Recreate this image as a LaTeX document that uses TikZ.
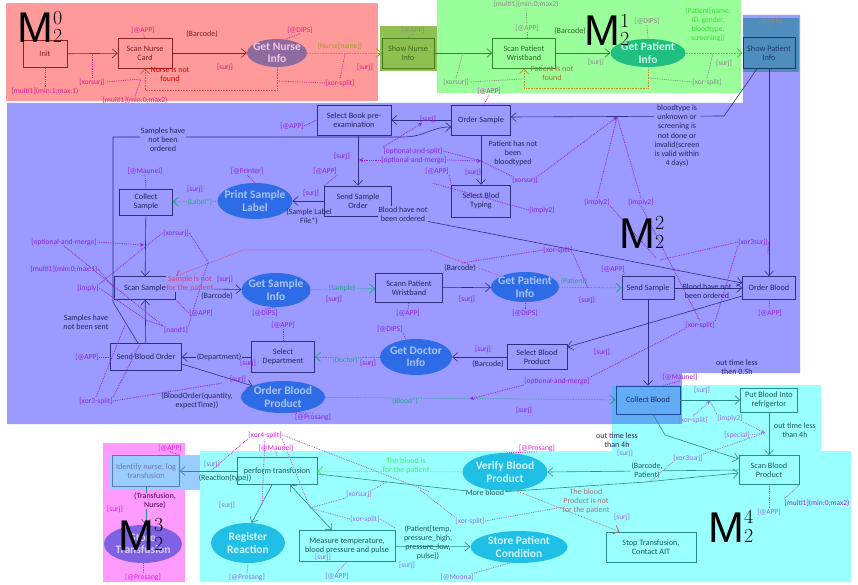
\documentclass[tikz,border=0pt]{standalone}
\usepackage{fontspec}
\usetikzlibrary{arrows.meta,shapes.geometric,calc}
\newfontfamily\labfont{Carlito}
\newfontfamily\mfnt{Liberation Sans}
\newcommand\bxfnt{\labfont\fontsize{8.2}{9.2}\selectfont}
\newcommand\elfnt{\labfont\bfseries\fontsize{11.5}{12.2}\selectfont}
\newcommand\lbfnt{\labfont\fontsize{7.5}{8.8}\selectfont}
\newcommand\txfnt{\labfont\fontsize{8}{9}\selectfont}
\newcommand\Mlab[1]{{\mfnt\fontsize{43}{43}\selectfont M}{\rmfamily\fontsize{20}{16.5}\selectfont\begin{tabular}[b]{@{}l@{}}#1\\2\end{tabular}}}

\definecolor{redbg}{HTML}{FF9A9A}
\definecolor{olivebg}{HTML}{8FBF4F}
\definecolor{greenbg}{HTML}{9AFF9A}
\definecolor{purplebg}{HTML}{9A9AFF}
\definecolor{cyanbg}{HTML}{9AFFFF}
\definecolor{pinkbg}{HTML}{FF9AFF}
\definecolor{showpatbg}{HTML}{4F8DBE}
\definecolor{collectbg}{HTML}{62ACF6}
\definecolor{identbg}{HTML}{99CCFF}
\definecolor{rline}{HTML}{8A2222}
\definecolor{rtext}{HTML}{7A2020}
\definecolor{oline}{HTML}{4A7A20}
\definecolor{otext}{HTML}{3F661A}
\definecolor{gline}{HTML}{2A8A2A}
\definecolor{gtext}{HTML}{2A6A2A}
\definecolor{pline}{HTML}{2E2E7E}
\definecolor{ptext}{HTML}{23235E}
\definecolor{cline}{HTML}{2A8A8A}
\definecolor{ctext}{HTML}{1A5A5A}
\definecolor{spline}{HTML}{1A3A6A}
\definecolor{cbline}{HTML}{1A4A9A}
\definecolor{idline}{HTML}{5A7AB0}
\definecolor{idtext}{HTML}{6A7AAA}
\definecolor{nurseell}{HTML}{8E6B9E}
\definecolor{nursetxt}{HTML}{F2C8E2}
\definecolor{greenell}{HTML}{1FBF7F}
\definecolor{greentxt}{HTML}{CCFFE6}
\definecolor{blueell}{HTML}{2E6BE6}
\definecolor{bluetxt}{HTML}{A8C4FF}
\definecolor{cyanell}{HTML}{1FBFE6}
\definecolor{cyantxt}{HTML}{D4F6FF}
\definecolor{violetell}{HTML}{7F62E3}
\definecolor{violettxt}{HTML}{D8CCFF}
\definecolor{lblred}{HTML}{E01C8C}
\definecolor{lblgrey}{HTML}{8A8A8A}
\definecolor{lblvio}{HTML}{9020E0}
\definecolor{lblmag}{HTML}{E020E0}
\definecolor{lblcy}{HTML}{9A6AE6}
\definecolor{datagreen}{HTML}{1FA87A}
\definecolor{olivetxt}{HTML}{A0A028}
\definecolor{redflow}{HTML}{E04848}
\definecolor{orangeflow}{HTML}{C89030}
\definecolor{brightgreen}{HTML}{33DD33}
\definecolor{pinkflow}{HTML}{D04080}
\definecolor{limeflow}{HTML}{40F060}
\definecolor{brownflow}{HTML}{B07070}

\begin{document}
\begin{tikzpicture}[x=1pt,y=-1pt,
  bx/.style={draw,rectangle,align=center,inner sep=1pt,line width=0.7pt,font=\bxfnt},
  sz/.style 2 args={minimum width=#1pt,minimum height=#2pt},
  ell/.style={ellipse,align=center,inner xsep=-4pt,inner ysep=-2pt,font=\elfnt},
  rbox/.style={bx,draw=rline,text=rtext},
  obox/.style={bx,draw=oline,text=otext},
  gbox/.style={bx,draw=gline,text=gtext},
  spbox/.style={bx,draw=spline,text=spline},
  pbox/.style={bx,draw=pline,text=ptext},
  cbbox/.style={bx,draw=cbline,text=ptext},
  cbox/.style={bx,draw=cline,text=ctext},
  ibox/.style={bx,draw=idline,text=idtext},
  lb/.style={font=\lbfnt,inner sep=0.4pt,align=center},
  tx/.style={lb,font=\txfnt},
  ar/.style={line width=0.6pt,-{Straight Barb[length=5pt,width=9pt]}},
  dar/.style={ar,densely dotted,line width=0.8pt},
  an/.style={line width=0.8pt,densely dotted},
  ant/.style={an,-{Stealth[length=4pt,width=4pt]}},
]
\useasboundingbox (0,0) rectangle (858,585);

% ---------- swim areas ----------
\fill[redbg] (6,3) rectangle (378,101);
\fill[olivebg] (380,26) rectangle (437,71);
\fill[greenbg] (437,0) rectangle (741,93);
\fill[purplebg] (7,103) -- (743,103) -- (743,15) -- (800,15) -- (800,373)
  -- (682,373) -- (682,424) -- (7,424) -- cycle;
\fill[showpatbg] (743,18) rectangle (799,72);
\fill[cyanbg] (612,385) -- (821,385) -- (821,451) -- (851,451) -- (851,582)
  -- (200,582) -- (200,451) -- (612,451) -- cycle;
\fill[collectbg] (612,385) rectangle (682,424);
\fill[pinkbg] (103,443) rectangle (185,582);
\fill[identbg] (110,455) rectangle (200,490);

% ---------- nurse identification ----------
\node[rbox,sz={44}{27}] (init) at (45,54) {Init};
\node[rbox,sz={54}{30}] (scannurse) at (145,53) {Scan Nurse\\Card};
\node[ell,fill=nurseell,text=nursetxt,minimum width=60pt,minimum height=28pt] (getnurse) at (277,53) {Get Nurse\\Info};
\node[obox,sz={52}{30}] (shownurse) at (408,53) {Show Nurse\\Info};

% ---------- patient identification ----------
\node[gbox,sz={63}{30}] (scanpat) at (524,53) {Scan Patient\\Wristband};
\node[ell,fill=greenell,text=greentxt,minimum width=75pt,minimum height=28pt] (getpat1) at (648,53) {Get Patient\\Info};
\node[spbox,sz={52}{31}] (showpat) at (769,53) {Show Patient\\Info};

% ---------- sampling and ordering ----------
\node[pbox,sz={74}{30}] (selbook) at (354,120) {Select Book pre-\\examination};
\node[pbox,sz={59}{30}] (ordsample) at (481,120) {Order Sample};
\node[pbox,sz={53}{26}] (collectsample) at (146,202) {Collect\\Sample};
\node[ell,fill=blueell,text=bluetxt,minimum width=68pt,minimum height=36pt] (printlabel) at (255,201) {Print Sample\\Label};
\node[pbox,sz={67}{30}] (sendsample) at (358,201) {Send Sample\\Order};
\node[pbox,sz={59}{32}] (selblod) at (481,201) {Select Blod\\Typing};
\node[pbox,sz={61}{23}] (scansample) at (145,288) {Scan Sample};
\node[ell,fill=blueell,text=bluetxt,minimum width=69pt,minimum height=34pt] (getsample) at (276,290) {Get Sample\\Info};
\node[pbox,sz={67}{29}] (scannpat) at (409,288) {Scann Patient\\Wristband};
\node[ell,fill=blueell,text=bluetxt,minimum width=68pt,minimum height=30pt] (getpat2) at (525,287) {Get Patient\\Info};
\node[pbox,sz={52}{23}] (sendsmp) at (648,288) {Send Sample};
\node[pbox,sz={53}{23}] (ordblood) at (769,288) {Order Blood};
\node[pbox,sz={71}{27}] (sendblood) at (146,357) {Send Blood Order};
\node[pbox,sz={63}{31}] (seldept) at (283,357) {Select\\Department};
\node[ell,fill=blueell,text=bluetxt,minimum width=72pt,minimum height=36pt] (getdoc) at (416,357) {Get Doctor\\Info};
\node[pbox,sz={60}{25}] (selbloodprod) at (537,357) {Select Blood\\Product};
\node[ell,fill=blueell,text=bluetxt,minimum width=84pt,minimum height=32pt] (ordbloodprod) at (283,397) {Order Blood\\Product};
\node[cbbox,sz={64}{28}] (collectblood) at (648,400) {Collect Blood};

% ---------- transfusion ----------
\node[cbox,sz={57}{24}] (putblood) at (769,400) {Put Blood Into\\refrigertor};
\node[cbox,sz={60}{29}] (scanbp) at (769,470) {Scan Blood\\Product};
\node[ell,fill=cyanell,text=cyantxt,minimum width=85pt,minimum height=38pt] (verify) at (505,472) {Verify Blood\\Product};
\node[cbox,sz={80}{27}] (perform) at (277,471) {perform transfusion};
\node[ibox,sz={67}{31}] (identify) at (146,471) {Identify nurse, log\\transfusion};
\node[ell,fill=cyanell,text=cyantxt,minimum width=74pt,minimum height=40pt] (register) at (248,543) {Register\\Reaction};
\node[cbox,sz={96}{31}] (measure) at (347,546) {Measure temperature,\\blood pressure and pulse};
\node[ell,fill=cyanell,text=cyantxt,minimum width=97pt,minimum height=32pt] (storepat) at (519,547) {Store Patient\\Condition};
\node[cbox,sz={90}{30}] (stop) at (651,547) {Stop Transfusion,\\Contact AIT};
\node[ell,fill=violetell,text=violettxt,minimum width=78pt,minimum height=38pt] (storetrans) at (143,544) {Store\\Transfusion};

% ---------- control flow ----------
\draw[ar,rline] (init) -- (scannurse);
\draw[ar,rline] (scannurse) -- (getnurse);
\draw[dar,redflow] (getnurse.south) -- ++(0,23) -| (scannurse.south);
\draw[dar,olivetxt] (getnurse) -- (shownurse);
\draw[ar,gline] (shownurse) -- (scanpat);
\draw[ar,gline] (scanpat) -- (getpat1);
\draw[dar,orangeflow] (getpat1.south) -- ++(0,21) -| (scanpat.south);
\draw[dar,brightgreen] (getpat1) -- (showpat);

\draw[ar,pline] (showpat.south) -- (ordblood.north);
\draw[ar,pline] ($(showpat.south)+(-12,0)$) -- (724,116) -- ($(ordsample.east)+(0,-3)$);
\draw[ar,pline] (ordsample.west) -- (selbook.east);
\draw[ar,pline] (ordsample) -- (selblod);
\draw[ar,pline] (selbook.south -| sendsample.north) -- (sendsample.north);
\draw[ar,pline] (sendsample) -- (printlabel);
\draw[dar,datagreen] (printlabel) -- (collectsample);
\draw[ar,pline] (collectsample) -- (scansample);
\draw[ar,pline] (sendblood) -- (scansample);
\draw[ar,pline] (scansample) -- (getsample);
\draw[dar,datagreen] (getsample) -- (scannpat);
\draw[ar,pline] (scannpat) -- (getpat2);
\draw[dar,datagreen] (getpat2) -- (sendsmp);
\draw[ar,pline] (sendsmp) -- (ordblood);
\draw[ar,pline] (sendsmp) -- (collectblood);
\draw[ar,pline] ($(sendsample.south east)+(0,-2)$) -- ($(ordblood.west)+(0,-5)$);
\draw[ar,pline] ($(ordblood.west)+(0,8)$) -- ($(selbloodprod.east)+(0,-10)$);
\draw[ar,pline] (selbloodprod) -- (getdoc);
\draw[dar,datagreen] (getdoc) -- (seldept);
\draw[ar,pline] (seldept) -- (sendblood);
\draw[ar,pline] ($(sendblood.east)+(0,7)$) -- (ordbloodprod.160);
\draw[dar,datagreen] (ordbloodprod) -- (collectblood);
\draw[ar,pline] ($(sendblood.north)+(-8,0)$) -- (113,302) -- (113,137) -- (402,137)
  .. controls (426,137) and (430,127) .. ($(ordsample.west)+(0,7)$);
\draw[dar,pinkflow] (getpat2.north west) -- (430,250) -- (243,250) -- (scansample.north east);

\draw[ar,cline] (collectblood) -- (putblood);
\draw[ar,cline] (putblood) -- (scanbp);
\draw[ar,cline] ($(collectblood.south)+(5,0)$) -- (665,435) -- ($(scanbp.west)+(0,-11)$);
\draw[ar,cline] (scanbp.west) -- (verify.east);
\draw[ar,cline] ($(perform.east)+(0,3)$) -- (485,493) -- (645,482) -- ($(scanbp.west)+(0,3)$);
\draw[dar,limeflow] (verify) -- (perform);
\draw[dar,brownflow] (verify.-60) -- ($(stop.north west)+(14,0)$);
\draw[ar,cline] (perform) -- (identify);
\draw[ar,cline] (identify.south) -- (identify.south |- storetrans.north);
\draw[ar,cline] ($(perform.south)+(-5,0)$) -- (register.80);
\draw[line width=0.6pt,cline,{Straight Barb[length=5pt,width=9pt]}-{Straight Barb[length=5pt,width=9pt]}] ($(perform.south)+(13,0)$) -- ($(measure.north)+(-15,0)$);
\draw[ar,cline] (measure) -- (storepat);

% ---------- labels: nurse area ----------
\node[lb,text=lblred] (lapp1) at (143,30) {[@APP]};
\node[tx,text=rtext] (lbar1) at (202,34) {(Barcode)};
\node[lb,text=lblred] (ldips1) at (300,30) {[@DIPS]};
\node[lb,text=lblred] (lsurj1) at (225,67) {[surj]};
\node[tx,text=red!90!black] (lnotfound) at (170,74) {Nurse is not\\found};
\node[lb,text=lblred] (lxs1) at (92,82) {[xorsurj]};
\node[lb,text=lblred] (lmulti1) at (45,91) {[multi1](min:1;max:1)};
\node[lb,text=lblred] (lmulti2) at (135,100) {[multi1](min:0;max2)};
\node[lb,text=lblred] (lxsplit1) at (340,83) {[xor-split]};
\node[lb,text=olivetxt] (lnname) at (340,46) {(Nurse[name])};
\node[lb,text=lblred] (lsurj2) at (365,67) {[surj]};
\draw[an,lblred] (lmulti1.north) -- (init.south);
\draw[an,lblred] (92,55) -- (lxs1.north);
\draw[an,lblred] (lxs1.east) -- (141,79);
\draw[an,lblred] (lmulti2.north) -- (141,79);
\draw[an,lblred] (lapp1.south) -- (scannurse.north);
\draw[an,lblred] (ldips1.south) -- (getnurse.60);
\draw[an,lblred] (lxsplit1.west) -- (277,81);
\draw[an,lblred] (345,54) -- (lxsplit1.north);

% ---------- labels: patient area ----------
\node[lb,text=lblgrey] (lapp2) at (413,30) {[@APP]};
\node[lb,text=lblgrey] (lmulti3) at (526,4) {[multi1](min:0;max2)};
\node[lb,text=lblgrey] (lapp3) at (527,28) {[@APP]};
\node[tx,text=gtext] (lbar2) at (570,31) {(Barcode)};
\node[lb,text=lblgrey] (lsurj3) at (596,62) {[surj]};
\node[tx,text=orangeflow!80!black] (lpatnf) at (552,73) {Patient is not\\found};
\node[lb,text=lblgrey] (lxs2) at (456,82) {[xorsurj]};
\node[lb,text=lblgrey] (ldips2) at (647,21) {[@DIPS]};
\node[lb,text=brightgreen] (lpdata) at (708,25) {(Patient[name,\\ID, gender,\\bloodtype,\\screening])};
\node[lb,text=lblgrey] (lsurj4) at (724,63) {[surj]};
\node[lb,text=lblgrey] (lxsplit2) at (707,82) {[xor-split]};
\node[lb,text=lblgrey] (lapp4) at (770,21) {[@APP]};
\node[lb,text=lblmag] (lapp5) at (489,91) {[@APP]};
\draw[an,lblgrey] (lapp2.south) -- (shownurse.north);
\draw[an,lblgrey] (lmulti3.south) -- (lapp3.north);
\draw[an,lblgrey] (lapp3.south) -- (lapp3.south |- scanpat.north);
\draw[an,lblgrey] (lxs2.north) -- (463,53);
\draw[an,lblgrey] (lxs2.east) -- (522,79);
\draw[an,lblgrey] (ldips2.south) -- (getpat1.north);
\draw[an,lblgrey] (lxsplit2.west) -- (648,78);
\draw[an,lblgrey] (lxsplit2.north) -- (713,53);
\draw[an,lblgrey] (lapp4.south) -- (showpat.north);
\draw[an,lblmag] (lapp5.south) -- ($(ordsample.north)+(3,0)$);

% ---------- labels: sampling and ordering ----------
\node[tx,text=ptext,fill=purplebg,font=\labfont\fontsize{8}{9.2}\selectfont] (lbtype) at (677,136) {bloodtype is\\unknown or\\screening is\\not done or\\invalid(screen\\is valid within\\4 days)};
\node[lb,text=lblvio] (lapp6) at (292,126) {[@APP]};
\node[lb,text=lblvio] (lsurj5) at (428,119) {[surj]};
\node[lb,text=lblvio] (loas) at (413,151) {[optional-and-split]};
\node[lb,text=lblvio] (loam) at (414,160) {[optional-and-merge]};
\node[lb,text=lblvio] (lsurj6) at (342,156) {[surj]};
\node[lb,text=lblvio] (lapp7) at (325,171) {[@APP]};
\node[lb,text=lblvio] (lprinter) at (247,171) {[@Printer]};
\node[lb,text=lblvio] (lmaunel1) at (145,171) {[@Maunel]};
\node[lb,text=lblvio] (lsurj7) at (195,189) {[surj]};
\node[lb,text=datagreen,fill=purplebg] (llabel) at (200,202) {(Label*)};
\node[lb,text=lblvio] (lsurj8) at (311,193) {[surj]};
\node[tx,text=ptext] (lslf) at (309,217) {(Sample Label\\File*)};
\node[tx,text=ptext,fill=purplebg] (lbhno1) at (403,214) {Blood have not\\been ordered};
\node[tx,text=ptext] (lphnb) at (513,153) {Patient has not\\been\\bloodtyped};
\node[lb,text=lblvio] (lsurj9) at (473,172) {[surj]};
\node[lb,text=lblvio] (lapp8) at (437,171) {[@APP]};
\node[lb,text=lblvio] (lxs3) at (525,180) {[xorsurj]};
\node[lb,text=lblvio] (limp1) at (542,210) {[imply2]};
\node[lb,text=lblvio] (limp2) at (597,202) {[imply2]};
\node[lb,text=lblvio] (limp3) at (641,202) {[imply2]};
\node[tx,text=ptext,fill=purplebg] (lsnbo) at (163,140) {Samples have\\not been\\ordered};
\node[lb,text=lblvio] (loam2) at (64,242) {[optional-and-merge]};
\node[lb,text=lblvio] (lxs4) at (176,233) {[xorsurj]};
\node[lb,text=lblvio] (lmulti4) at (64,269) {[multi1](min:0;max:1)};
\node[lb,text=lblvio] (limply) at (88,288) {[imply]};
\node[tx,text=pinkflow,fill=purplebg] (lsinfp) at (190,284) {Sample is not\\for the patient};
\node[lb,text=lblvio] (lsurj10) at (225,279) {[surj]};
\node[tx,text=ptext] (lbar3) at (217,296) {(Barcode)};
\node[lb,text=lblvio] (lapp9) at (201,313) {[@APP]};
\node[lb,text=lblvio] (lnand) at (176,330) {[nand1]};
\node[tx,text=ptext] (lsnbs) at (86,322) {Samples have\\not been sent};
\node[lb,text=lblvio] (lapp10) at (87,357) {[@APP]};
\node[lb,text=lblvio] (lxor3s) at (96,401) {[xor3-split]};
\node[lb,text=lblvio] (ldips3) at (265,313) {[@DIPS]};
\node[lb,text=datagreen,fill=purplebg] (lsample) at (342,288) {(Sample)};
\node[lb,text=lblvio] (lsurj11) at (334,299) {[surj]};
\node[lb,text=lblvio] (lapp11) at (408,313) {[@APP]};
\node[tx,text=ptext] (lbar4) at (460,268) {(Barcode)};
\node[lb,text=lblvio] (lsurj12) at (467,299) {[surj]};
\node[lb,text=lblvio] (lxsplit3) at (558,250) {[xor-split]};
\node[lb,text=lblvio] (ldips4) at (525,313) {[@DIPS]};
\node[lb,text=datagreen] (lpatient) at (574,281) {(Patient)};
\node[lb,text=lblvio] (lsurj13) at (587,300) {[surj]};
\node[lb,text=lblvio] (lapp12) at (613,269) {[@APP]};
\node[tx,text=ptext] (lbhno2) at (707,291) {Blood have not\\been ordered};
\node[lb,text=lblvio] (lxor3surj) at (753,242) {[xor3surj]};
\node[lb,text=lblvio] (lapp13) at (770,313) {[@APP]};
\node[lb,text=lblvio] (lxsplit4) at (700,325) {[xor-split]};
\node[lb,text=lblvio] (lsurj14) at (602,352) {[surj]};
\node[lb,text=lblvio] (lsurj15) at (483,349) {[surj]};
\node[tx,text=ptext] (lbar5) at (488,364) {(Barcode)};
\node[lb,text=lblvio] (loam3) at (557,381) {[optional-and-merge]};
\node[lb,text=lblvio] (ldips5) at (390,329) {[@DIPS]};
\node[lb,text=datagreen,fill=purplebg] (ldoctor) at (345,360) {(Doctor)};
\node[lb,text=lblvio] (lsurj16) at (368,363) {[surj]};
\node[lb,text=lblvio] (lapp14) at (283,325) {[@APP]};
\node[tx,text=ptext,fill=purplebg] (ldept) at (219,357) {(Department)};
\node[lb,text=lblvio] (lsurj17) at (248,363) {[surj]};
\node[lb,text=lblvio] (lsurj18) at (238,379) {[surj]};
\node[tx,text=ptext] (lbo) at (197,401) {(BloodOrder(quantity,\\expectTime))};
\node[lb,text=lblvio] (lprosang1) at (313,417) {[@Prosang]};
\node[lb,text=datagreen,fill=purplebg] (lblood) at (405,401) {(Blood*)};
\node[lb,text=lblvio] (lsurj19) at (524,410) {[surj]};
\node[lb,text=lblvio!70!lblmag] (lmaunel2) at (680,377) {[@Maunel]};
\node[tx,text=ptext] (lout05) at (737,367) {out time less\\then 0.5h};

\draw[an,lblvio] (lapp6.east) -- (selbook.west);
\draw[ant,lblvio] (loas.north west) -- (422,123);
\draw[ant,lblvio] (loam.west) -- (359,160);
\draw[an,lblvio] (loas.east) -- (481,161);
\draw[ant,lblvio] (loam.east) -- (481,161);
\draw[an,lblvio] (lxs3.north west) -- (481,161);
\draw[ant,lblvio] (lxs3.north east) -- (617,117);
\draw[an,lblvio] (limp2.north) -- (617,117);
\draw[an,lblvio] (limp3.north) -- (617,117);
\draw[an,lblvio] (limp1.west) -- (432,183);
\draw[an,lblvio] (limp2.south east) -- (656,258);
\draw[an,lblvio] (limp3.south) -- (lxsplit4.north);
\draw[an,lblvio] (lxor3surj.west) -- (660,260);
\draw[an,lblvio] (lxor3surj.east) -- (768,255);
\draw[an,lblvio] (lxor3surj.south west) -- (lxsplit4.north east);
\draw[an,lblvio] (lxsplit4.south west) -- (loam3.north east);
\draw[ant,lblvio] (loam3.south west) -- (470,399);
\draw[an,lblvio] (lxsplit3.west) -- (462,263);
\draw[an,lblvio] (lxsplit3.south east) -- (588,288);
\draw[an,lblvio] (lapp12.south east) -- (sendsmp.north west);
\draw[an,lblvio] (lapp13.north) -- (ordblood.south);
\draw[an,lblvio] (ldips4.north) -- (getpat2.south);
\draw[an,lblvio] (lapp11.north) -- (scannpat.south);
\draw[an,lblvio] (ldips3.north) -- (getsample.south);
\draw[an,lblvio] (lapp14.south) -- (seldept.north);
\draw[an,lblvio] (ldips5.south east) -- (getdoc.120);
\draw[an,lblvio] (lmaunel1.south) -- (collectsample.north);
\draw[an,lblvio] (lprinter.south) -- (printlabel.north);
\draw[an,lblvio] (lapp7.south east) -- (sendsample.north west);
\draw[an,lblvio] (lapp8.south east) -- (selblod.north west);
\draw[an,lblvio] (lprosang1.north) -- (ordbloodprod.-60);
\draw[an,lblvio] (lmaunel2.south) -- ($(collectblood.north)+(15,0)$);
\draw[an,lblvio] (lapp10.east) -- (sendblood.west);
\draw[ant,lblvio] (loam2.east) -- (144,245);
\draw[an,lblvio] (lxs4.west) -- (146,246);
\draw[an,lblvio] (lxs4.east) -- (208,262) -- (lnand.north east);
\draw[an,lblvio] (limply.north east) -- (146,246);
\draw[an,lblvio] (limply.east) -- (146,320);
\draw[an,lblvio] (lnand.north west) -- (146,320);
\draw[an,lblvio] (loam2.south) -- (lnand.north west);
\draw[an,lblvio] (lmulti4.east) -- (scansample.west);
\draw[an,lblvio] (lapp9.west) -- (scansample.south east);
\draw[an,lblvio] (lxor3s.north) -- (125,325);
\draw[an,lblvio] (lxor3s.north east) -- (140,344);
\draw[an,lblvio] (lxor3s.east) -- (222,383);

% ---------- labels: transfusion ----------
\node[lb,text=lblcy] (lsurj20) at (702,390) {[surj]};
\node[lb,text=lblcy] (lxsplit5) at (693,420) {[xor-split]};
\node[lb,text=lblcy] (limp4) at (730,418) {[imply2]};
\node[lb,text=lblcy] (lspecial) at (737,435) {[special]};
\node[lb,text=lblcy] (lxor3surj2) at (688,458) {[xor3surj]};
\node[tx,text=ctext] (lout4a) at (795,430) {out time less\\than 4h};
\node[tx,text=ptext] (lout4b) at (617,440) {out time less\\than 4h};
\node[lb,text=lblcy] (lsurj21) at (625,453) {[surj]};
\node[tx,text=ctext,fill=cyanbg] (lbp) at (647,471) {(Barcode,\\Patient)};
\node[lb,text=lblcy] (lapp15) at (769,512) {[@APP]};
\node[lb,text=lblvio!70!lblmag] (lmulti5) at (817,503) {[multi1](min:0;max2)};
\node[lb,text=lblmag] (lprosang2) at (537,448) {[@Prosang]};
\node[tx,text=limeflow,fill=cyanbg] (lbifp) at (406,466) {The blood is\\for the patient};
\node[tx,text=ctext,fill=cyanbg] (lmore) at (485,493) {More blood};
\node[tx,text=brownflow] (lbpnf) at (586,501) {The blood\\Product is not\\for the patient};
\node[lb,text=lblcy] (lxsplit6) at (470,521) {[xor-split]};
\node[lb,text=lblcy] (lsurj22) at (622,517) {[surj]};
\node[tx,text=ctext] (lptemp) at (428,543) {(Patient[temp,\\pressure\_high,\\pressure\_low,\\pulse])};
\node[lb,text=lblcy] (lsurj23) at (407,565) {[surj]};
\node[lb,text=lblcy] (lmeona) at (457,577) {[@Meona]};
\node[lb,text=lblcy] (lapp16) at (337,576) {[@APP]};
\node[lb,text=lblcy] (lsurj24) at (323,557) {[surj]};
\node[lb,text=lblcy] (lprosang3) at (247,577) {[@Prosang]};
\node[lb,text=lblcy] (lsurj25) at (227,505) {[surj]};
\node[lb,text=lblcy] (lxs5) at (359,494) {[xorsurj]};
\node[lb,text=lblcy] (lxsplit7) at (365,519) {[xor-split]};
\node[lb,text=lblmag] (lxor4) at (265,435) {[xor4-split]};
\node[lb,text=lblmag] (lmaunel3) at (276,448) {[@Maunel]};
\node[lb,text=lblmag] (lapp17) at (170,448) {[@APP]};
\node[lb,text=lblcy] (lsurj26) at (212,464) {[surj]};
\node[tx,text=ctext] (lreact) at (225,478) {(Reaction(type))};
\node[tx,text=violet!60!black,fill=pinkbg] (ltn) at (155,501) {(Transfusion,\\Nurse)};
\node[lb,text=lblmag!80!lblvio] (lsurj27) at (115,509) {[surj]};
\node[lb,text=lblmag] (lprosang4) at (143,577) {[@Prosang]};

\draw[ant,lblcy] (lxsplit5.north) -- (710,401);
\draw[an,lblcy] (limp4.north west) -- (710,401);
\draw[ant,lblcy] (limp4.south east) -- (765,433);
\draw[an,lblcy] (lspecial.east) -- (765,433);
\draw[an,lblcy] (lxor3surj2.north east) -- (765,433);
\draw[an,lblcy] (lxor3surj2.south west) -- (650,482);
\draw[an,lblcy] (lapp15.north) -- (scanbp.south);
\draw[an,lblcy] (lmulti5.north west) -- (scanbp.south east);
\draw[an,lblmag] (lprosang2.south) -- (verify.north);
\draw[an,lblmag] (lxor4.south west) -- (212,470);
\draw[an,lblmag] (lxor4.south) -- (262,505);
\draw[an,lblcy] (lxor4.south east) -- (310,508);
\draw[an,lblcy] (lxor4.east) -- (430,492);
\draw[an,lblmag] (lmaunel3.south) -- (perform.north);
\draw[an,lblmag] (lapp17.south) -- (identify.north east);
\draw[an,lblcy] (lxs5.north east) -- (387,482);
\draw[an,lblcy] (lxs5.south west) -- (310,508);
\draw[an,lblcy] (lxsplit7.west) -- (310,508);
\draw[an,lblcy] (lxsplit7.east) -- (395,528);
\draw[an,lblcy] (lxsplit6.north west) -- (420,490);
\draw[an,lblcy] (lxsplit6.east) -- (563,507);
\draw[an,lblcy] (lmeona.north east) -- (storepat.-120);
\draw[an,lblcy] (lapp16.north) -- (measure.south);
\draw[an,lblcy] (lprosang3.north) -- (register.south);
\draw[an,lblmag] (lprosang4.north) -- (storetrans.south);

% ---------- module marks ----------
\node[anchor=base west,inner sep=0] (m0) at (17,43) {\Mlab{0}};
\node[anchor=base west,inner sep=0] (m1) at (584,46) {\Mlab{1}};
\node[anchor=base west,inner sep=0] (m2) at (619,248) {\Mlab{2}};
\node[anchor=base west,inner sep=0] (m3) at (118,550) {\Mlab{3}};
\node[anchor=base west,inner sep=0] (m4) at (708,542) {\Mlab{4}};
\end{tikzpicture}
\end{document}
